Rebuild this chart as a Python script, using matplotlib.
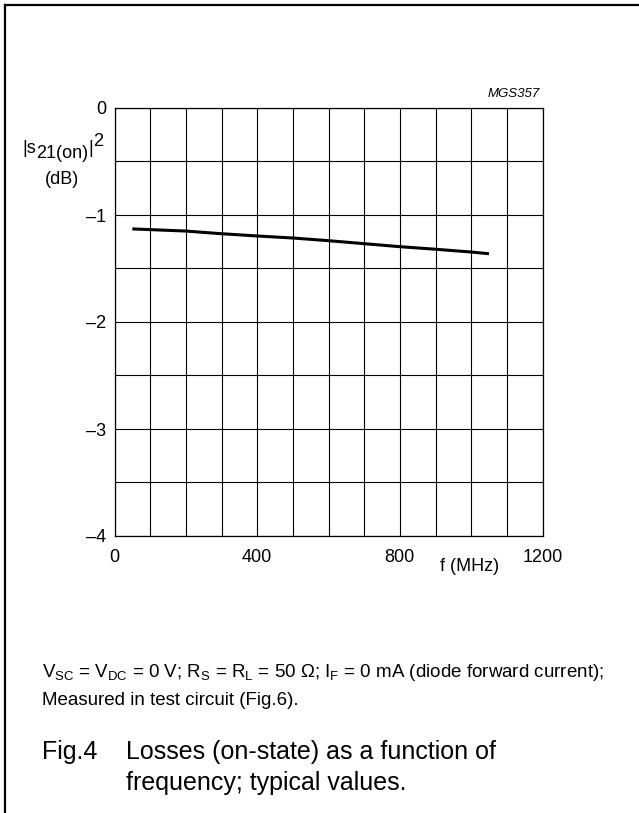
import matplotlib
matplotlib.use("Agg")
import matplotlib.pyplot as plt
from matplotlib.lines import Line2D
import numpy as np

plt.rcParams['font.family'] = ['Liberation Sans', 'DejaVu Sans']
plt.rcParams['mathtext.fontset'] = 'custom'
plt.rcParams['mathtext.rm'] = 'Liberation Sans'
plt.rcParams['mathtext.it'] = 'Liberation Sans:italic'

# data
freq_mhz = [50, 200, 300, 400, 500, 600, 700, 800, 900, 1000, 1050]
s21_db = [-1.13, -1.15, -1.175, -1.196, -1.215, -1.24, -1.268, -1.296, -1.32, -1.346, -1.362]

x_ticks = [0, 400, 800, 1200]
x_ticklabels = ['0', '400', '800', '1200']
y_ticks = [0, -1, -2, -3, -4]
y_ticklabels = ['0', '\u20131', '\u20132', '\u20133', '\u20134']

W, H = 639, 813
fig = plt.figure(figsize=(W / 100, H / 100), dpi=100)


def fx(px):
    return px / W


def fy(py):
    return 1 - py / H


# outer frame (left and top lines only)
fig.add_artist(Line2D([fx(4.5), fx(4.5)], [0, fy(5.5)], transform=fig.transFigure,
                      color='black', lw=1.6))
fig.add_artist(Line2D([fx(4.5), 1], [fy(5.5), fy(5.5)], transform=fig.transFigure,
                      color='black', lw=1.6))

left, right, top, bottom = 114.5, 542.5, 108, 536
ax = fig.add_axes([fx(left), fy(bottom), (right - left) / W, (bottom - top) / H])
ax.set_xlim(0, 1200)
ax.set_ylim(-4, 0)

ax.set_xticks(np.arange(0, 1201, 100), minor=True)
ax.set_yticks(np.arange(-4, 0.01, 0.5), minor=True)
ax.grid(which='minor', color='black', lw=0.8)
ax.grid(which='major', color='black', lw=0.8)
ax.set_xticks(x_ticks)
ax.set_xticklabels(x_ticklabels)
ax.set_yticks(y_ticks)
ax.set_yticklabels(y_ticklabels)
ax.tick_params(which='both', length=0, labelsize=13)
ax.tick_params(axis='x', pad=9.5)
ax.tick_params(axis='y', pad=6)
for s in ax.spines.values():
    s.set_linewidth(0.9)

ax.plot(freq_mhz, s21_db, color='black', lw=2.2, solid_capstyle='butt')

# y-axis label |s21(on)|^2 composed from pieces
fs = 13
fig.text(fx(22), fy(153), '|s', ha='left', va='baseline', fontsize=fs)
fig.text(fx(36), fy(157.5), '21(on)', ha='left', va='baseline', fontsize=fs)
fig.text(fx(88), fy(153), '|', ha='left', va='baseline', fontsize=fs)
fig.text(fx(93), fy(146), '2', ha='left', va='baseline', fontsize=fs)
fig.text(fx(62), fy(180), '(dB)', ha='center', va='center', fontsize=fs)
fig.text(fx(470), fy(566), 'f (MHz)', ha='center', va='center', fontsize=fs)
fig.text(fx(540), fy(94), 'MGS357', ha='right', va='center', fontsize=9.5, style='italic')

# captions
fig.text(fx(42), fy(672),
         r'V$_{\mathregular{SC}}$ = V$_{\mathregular{DC}}$ = 0 V; R$_{\mathregular{S}}$ = R$_{\mathregular{L}}$ = 50 Ω; '
         r'I$_{\mathregular{F}}$ = 0 mA (diode forward current);',
         ha='left', va='center', fontsize=13.5)
fig.text(fx(42), fy(700), 'Measured in test circuit (Fig.6).', ha='left', va='center', fontsize=13.5)
fig.text(fx(42), fy(752), 'Fig.4', ha='left', va='center', fontsize=18)
fig.text(fx(126), fy(752), 'Losses (on-state) as a function of', ha='left', va='center', fontsize=18)
fig.text(fx(126), fy(783), 'frequency; typical values.', ha='left', va='center', fontsize=18)

fig.savefig('out.png', dpi=100)
